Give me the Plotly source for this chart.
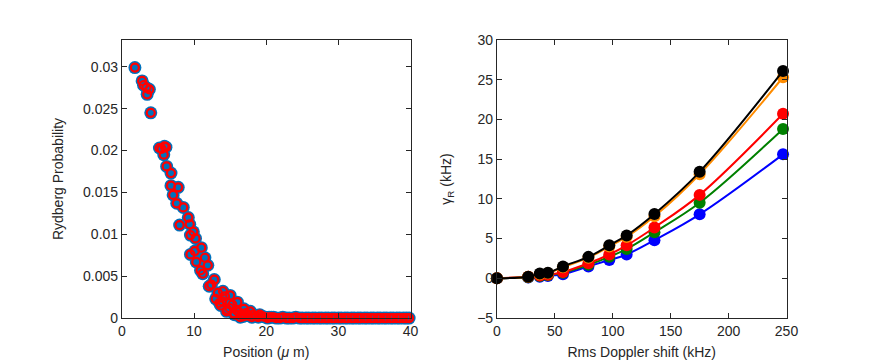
import plotly.graph_objects as go

# left panel: Rydberg probability vs position (um)
pos = [1.8, 2.8, 3.0, 3.4, 3.8, 3.5, 4.0, 5.2, 5.5, 5.9, 6.1, 5.8, 6.2, 6.8, 6.8, 7.8,
       7.1, 7.6, 8.5, 8.0, 9.2, 9.4, 9.9, 9.5, 10.2, 11.0, 9.5, 10.1, 11.5, 11.9, 10.3,
       10.9, 11.2, 12.8, 12.1, 14.0, 13.0, 15.0, 13.7, 16.0, 14.6, 16.9, 15.6, 17.8,
       19.1, 16.4, 12.4, 13.3, 13.9, 14.3, 14.9, 15.3, 15.9, 16.2, 16.6, 17.2, 17.5,
       18.2, 18.6, 19.5, 19.9, 20.4, 21.0, 13.5, 14.5, 15.5, 16.8, 17.0, 18.0, 18.9,
       20.2, 20.7, 21.4, 21.9, 22.3, 22.8, 23.2, 23.7, 24.1, 24.6, 25.0, 25.5, 25.9,
       26.4, 26.8, 27.3, 27.7, 28.2, 28.6, 29.1, 29.5, 30.0, 30.4, 30.9, 31.3, 31.8,
       32.2, 32.7, 33.1, 33.6, 34.0, 34.5, 34.9, 35.4, 35.8, 36.3, 36.7, 37.2, 37.6,
       38.1, 38.5, 39.0, 39.4, 39.8]
prob = [0.0299, 0.0283, 0.0278, 0.0275, 0.0273, 0.0267, 0.0245, 0.0203, 0.0202, 0.0205,
        0.0204, 0.0195, 0.0181, 0.0173, 0.0158, 0.0156, 0.0147, 0.0137, 0.0132, 0.0111,
        0.0120, 0.0112, 0.0103, 0.0099, 0.0095, 0.0084, 0.0076, 0.0080, 0.0072, 0.0063,
        0.0067, 0.0057, 0.0053, 0.0046, 0.0038, 0.0032, 0.0023, 0.0027, 0.0015, 0.0019,
        0.0010, 0.0011, 0.0004, 0.0008, 0.0004, 0.0001, 0.0040, 0.0030, 0.0020, 0.0026,
        0.0012, 0.0016, 0.0009, 0.0007, 0.0005, 0.0006, 0.0003, 0.0004, 0.0002, 0.0002,
        0.0001, 0.0001, 0.0001, 0.0018, 0.0008, 0.0006, 0.0002, 0.0003, 0.0001, 0.0001,
        0.0, 0.0001, 0.0, 0.0, 0.0001, 0.0, 0.0, 0.0, 0.0001, 0.0, 0.0, 0.0, 0.0,
        0.0, 0.0, 0.0, 0.0, 0.0, 0.0, 0.0, 0.0, 0.0, 0.0, 0.0, 0.0, 0.0,
        0.0, 0.0, 0.0, 0.0, 0.0, 0.0, 0.0, 0.0, 0.0, 0.0, 0.0, 0.0, 0.0,
        0.0, 0.0, 0.0, 0.0, 0.0]

# right panel: gamma_R (kHz) vs rms Doppler shift (kHz)
doppler = [0, 27, 37, 44, 57, 79, 97, 112, 136, 175, 247]
g_blue = [0, 0.1, 0.2, 0.3, 0.5, 1.5, 2.3, 3.0, 4.8, 8.05, 15.6]
g_green = [0, 0.15, 0.3, 0.4, 0.7, 1.7, 2.7, 3.7, 5.8, 9.5, 18.8]
g_red = [0, 0.2, 0.35, 0.45, 0.8, 1.9, 3.0, 4.15, 6.4, 10.5, 20.7]
g_orange = [0, 0.2, 0.5, 0.65, 1.4, 2.6, 4.0, 5.2, 7.8, 13.1, 25.3]
g_black = [0, 0.2, 0.6, 0.7, 1.5, 2.7, 4.15, 5.4, 8.1, 13.4, 26.1]

fig = go.Figure()

fig.add_scatter(x=pos, y=prob, mode='markers', xaxis='x', yaxis='y', cliponaxis=False,
                marker=dict(size=13, color='#0072BD', line=dict(width=0)))
fig.add_scatter(x=pos, y=prob, mode='markers', xaxis='x', yaxis='y', cliponaxis=False,
                marker=dict(size=8, symbol='circle-open', color='#FF0000', line=dict(width=2.2)))

for ys, col in [(g_blue, '#0000FF'), (g_green, '#008000'), (g_red, '#FF0000'),
                (g_orange, '#FF8C00'), (g_black, '#000000')]:
    fig.add_scatter(x=doppler, y=ys, mode='lines+markers', xaxis='x2', yaxis='y2',
                    cliponaxis=False, line=dict(color=col, width=2, shape='spline'),
                    marker=dict(size=12, color=col))

ax = dict(showgrid=False, zeroline=False, showline=True, linecolor='#262626', linewidth=1,
          mirror='ticks', ticks='inside', ticklen=5, tickcolor='#262626',
          tickfont=dict(family='Liberation Sans', size=14, color='#262626'))
tfont = dict(family='Liberation Sans', size=14, color='#262626')

fig.update_layout(
    width=872, height=363, margin=dict(l=0, r=0, t=0, b=0),
    plot_bgcolor='white', paper_bgcolor='white', showlegend=False,
    xaxis=dict(ax, domain=[0.1284, 0.4656], range=[0, 40], tickvals=[0, 10, 20, 30, 40],
               title=dict(text='Position (<i>μ</i> m)', font=tfont, standoff=9)),
    yaxis=dict(ax, domain=[0.1295, 0.9311], range=[0, 0.0332],
               tickvals=[0, 0.005, 0.01, 0.015, 0.02, 0.025, 0.03],
               ticktext=['0', '0.005', '0.01', '0.015', '0.02', '0.025', '0.03'],
               title=dict(text='Rydberg Probability', font=tfont, standoff=16)),
    xaxis2=dict(ax, domain=[0.5665, 0.9048], range=[0, 250], tickvals=[0, 50, 100, 150, 200, 250],
                anchor='y2',
                title=dict(text='Rms Doppler shift (kHz)', font=tfont, standoff=9)),
    yaxis2=dict(ax, domain=[0.1295, 0.9311], range=[-5, 30], anchor='x2',
                tickvals=[-5, 0, 5, 10, 15, 20, 25, 30],
                title=dict(text='γ<sub>R</sub> (kHz)', font=tfont, standoff=22)),
)

fig.write_html("out.html")
